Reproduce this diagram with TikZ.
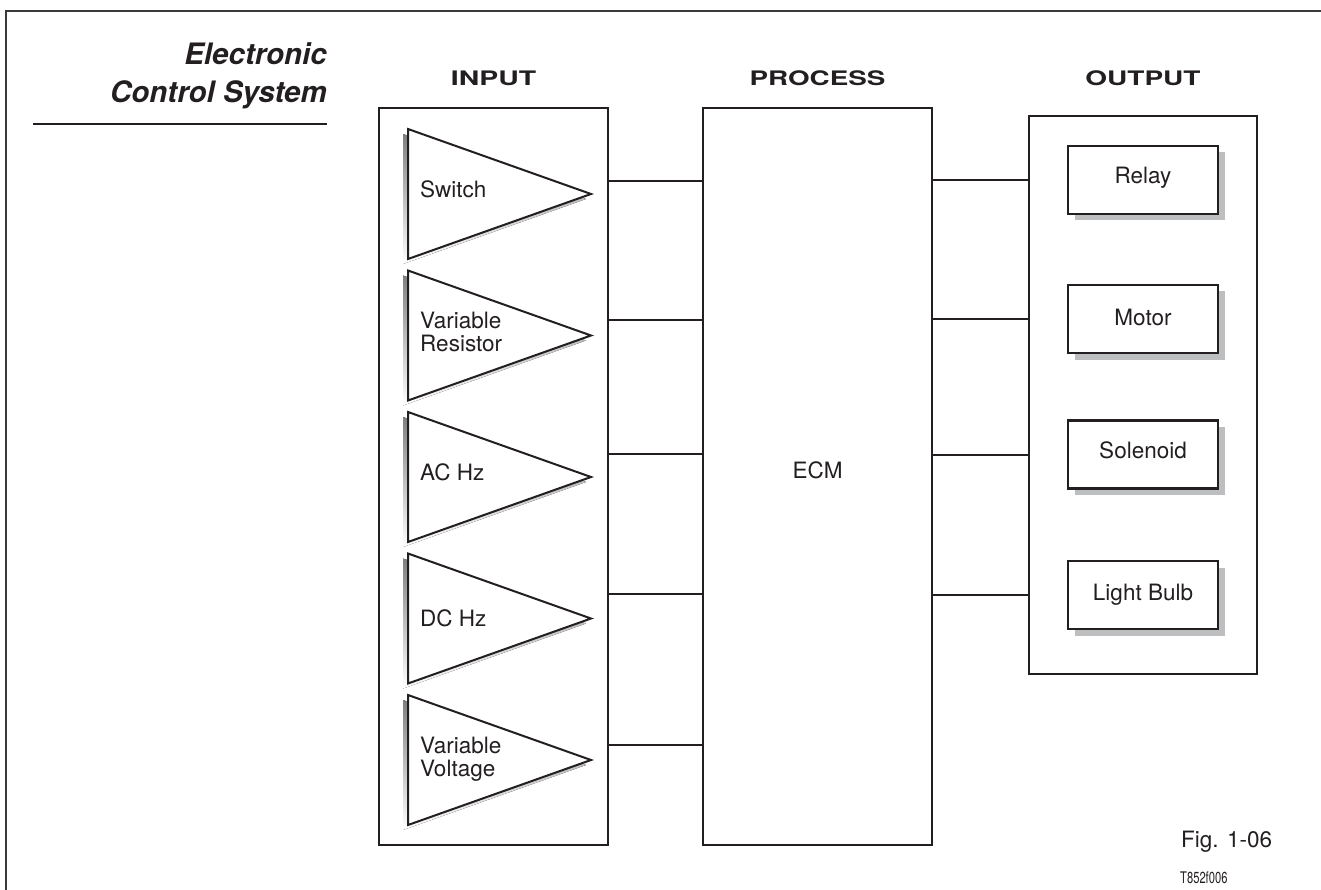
\documentclass[tikz,border=0pt]{standalone}
\usepackage{fontspec}
\setmainfont{TeX Gyre Heros}
\usepackage{graphicx}
\usetikzlibrary{shadows}
\definecolor{ink}{HTML}{231F20}
\definecolor{shade}{HTML}{BCBEC0}
\definecolor{framec}{HTML}{3A3A3A}
\begin{document}
\begin{tikzpicture}[x=1pt,y=-1pt,
  bigbox/.style={draw=ink, line width=2pt, fill=white, inner sep=0pt, minimum width=229pt},
  outitem/.style={draw=ink, line width=2.2pt, fill=white, inner sep=0pt,
    minimum width=150pt, minimum height=68pt,
    drop shadow={shadow xshift=6.5pt, shadow yshift=-6.5pt, fill=shade, draw=none, opacity=1}},
  conn/.style={draw=ink, line width=2pt},
  lbl/.style={text=ink, inner sep=0pt, font=\fontsize{22.5}{22.5}\selectfont},
  hdr/.style={text=ink, inner sep=0pt, anchor=base, font=\bfseries\fontsize{20}{20}\selectfont},
  ttl/.style={text=ink, inner sep=0pt, anchor=base east, font=\bfseries\itshape\fontsize{29.5}{30}\selectfont}]
\useasboundingbox (0,0) rectangle (1321,890);
% frame
\draw[framec, line width=1.6pt] (6,890) -- (6,11) -- (1321,11);
% title
\node[ttl] (t1) at (327,65) {Electronic};
\node[ttl] (t2) at (327,103) {Control System};
\coordinate (ul1) at (33,124);
\coordinate (ul2) at (327,124);
\draw[ink, line width=2pt] (ul1) -- (ul2);
% headers
\node[hdr] (hin) at (493.5,86) {\scalebox{1.42}[1]{INPUT}};
\node[hdr] (hpr) at (817.5,86) {\scalebox{1.39}[1]{PROCESS}};
\node[hdr] (hout) at (1143,86) {\scalebox{1.4}[1]{OUTPUT}};
% main boxes
\node[bigbox, minimum height=737pt] (inbox) at (493.5,476.5) {};
\node[bigbox, minimum height=737pt] (ecm) at (817.5,476.5) {};
\node[lbl] (ecmt) at (817.5,470) {ECM};
\node[bigbox, minimum width=228pt, minimum height=558pt] (outbox) at (1143,395) {};
% input triangles
\foreach \t in {129,270.5,412,553.5,695} {
  \fill[shade] (403,\t+5) -- (586,\t+70) -- (403,\t+135) -- cycle;
  \draw[ink, line width=2pt, fill=white, line join=miter] (408,\t) -- (591,\t+65) -- (408,\t+130) -- cycle;
}
\node[lbl, anchor=base west] (sw) at (420,198) {Switch};
\node[lbl, anchor=west, align=left] (vr) at (420,332) {Variable\\Resistor};
\node[lbl, anchor=base west] (ac) at (420,480) {AC Hz};
\node[lbl, anchor=base west] (dc) at (420,626) {DC Hz};
\node[lbl, anchor=west, align=left] (vv) at (420,759) {Variable\\Voltage};
% output items
\node[outitem] (relay) at (1143,180) {};
\node[outitem] (motor) at (1143,319) {};
\node[outitem] (sol) at (1143,454.5) {};
\node[outitem] (bulb) at (1143,595) {};
\node[lbl, anchor=base] at (1143,184) {Relay};
\node[lbl, anchor=base] at (1143,325) {Motor};
\node[lbl, anchor=base] at (1143,458) {Solenoid};
\node[lbl, anchor=base] at (1143,600) {Light Bulb};
% input connectors
\coordinate (i1) at (0,181);
\coordinate (i2) at (0,320);
\coordinate (i3) at (0,454);
\coordinate (i4) at (0,594);
\coordinate (i5) at (0,745);
\foreach \c in {i1,i2,i3,i4,i5} {
  \draw[conn] (inbox.east |- \c) -- (ecm.west |- \c);
}
% output connectors
\foreach \c in {relay,motor,sol,bulb} {
  \draw[conn] (ecm.east |- \c) -- (outbox.west |- \c);
}
% figure labels
\node[lbl, anchor=base west] (fig) at (1181,847) {Fig. 1-06};
\node[text=ink, inner sep=0pt, anchor=base west, font=\fontsize{16}{16}\selectfont] (code) at (1180,883) {\scalebox{0.7}[1]{T852f006}};
\end{tikzpicture}
\end{document}
